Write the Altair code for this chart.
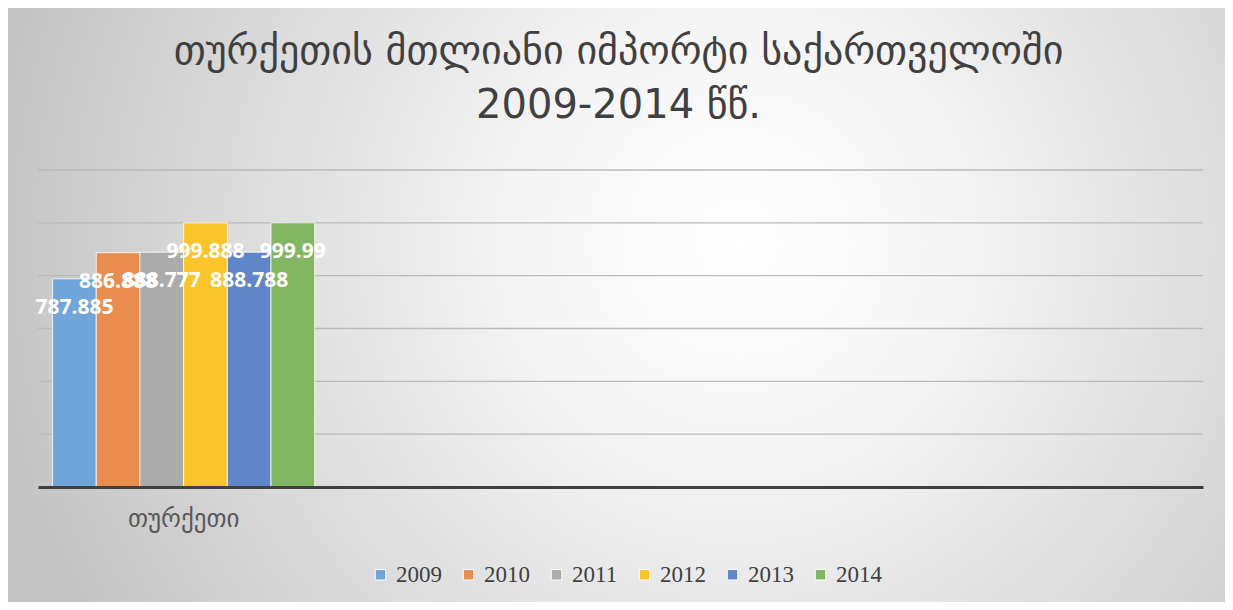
import altair as alt
import pandas as pd

# ---- data ----
years = ["2009", "2010", "2011", "2012", "2013", "2014"]
values = [787.885, 886.888, 888.777, 999.888, 888.788, 999.99]
country = "თურქეთი"
categories = ["თურქეთი", " ", "  ", "   "]
colors = ["#6fa5d8", "#ea8c4e", "#ababab", "#fbc52a", "#5f86c9", "#82b662"]
gridlines = [200, 400, 600, 800, 1000, 1200]
title_lines = ["თურქეთის მთლიანი იმპორტი საქართველოში", "2009-2014 წწ."]

W, H = 1165, 317
PAD = {"left": 30, "top": 162, "right": 22, "bottom": 115}

df = pd.DataFrame({"country": [country] * len(years), "year": years, "value": values})
grid_df = pd.DataFrame({"g": gridlines})
title_df = pd.DataFrame({"t": ["\n".join(title_lines)]})
bg_df = pd.DataFrame({"k": [0]})

GEO_FONT = "DejaVu Sans"

bg = alt.Chart(bg_df).mark_rect(
    color=alt.Gradient(
        gradient="radial",
        x1=0.6, y1=0.45, r1=0.0,
        x2=0.6, y2=0.45, r2=0.62,
        stops=[
            alt.GradientStop(offset=0.0, color="#ffffff"),
            alt.GradientStop(offset=0.3, color="#f4f4f4"),
            alt.GradientStop(offset=1.0, color="#c4c4c4"),
        ],
    )
).encode(
    x=alt.value(-PAD["left"]), x2=alt.value(W + PAD["right"]),
    y=alt.value(-PAD["top"] - 5), y2=alt.value(H + PAD["bottom"]),
)

grid = alt.Chart(grid_df).mark_rule(color="#bababa", strokeWidth=1.3).encode(
    y=alt.Y("g:Q", scale=alt.Scale(domain=[0, 1200], nice=False), axis=None)
)

x_enc = alt.X(
    "country:N",
    scale=alt.Scale(domain=categories, paddingInner=0.1, paddingOuter=0.05),
    axis=alt.Axis(
        title=None, labelAngle=0, ticks=False, grid=False,
        labelFont=GEO_FONT, labelFontSize=25, labelColor="#595959",
        labelPadding=19, domainColor="#404040", domainWidth=3, zindex=1,
    ),
)
xoff = alt.XOffset("year:N", scale=alt.Scale(domain=years, paddingInner=0, paddingOuter=0))
y_enc = alt.Y("value:Q", scale=alt.Scale(domain=[0, 1200], nice=False), axis=None)

bars = alt.Chart(df).mark_bar(stroke="white", strokeWidth=1, strokeOpacity=0.8).encode(
    x=x_enc, xOffset=xoff, y=y_enc,
    color=alt.Color(
        "year:N",
        scale=alt.Scale(domain=years, range=colors),
        legend=alt.Legend(
            title=None, orient="none", direction="horizontal",
            legendX=331, legendY=393, symbolType="square", symbolSize=110,
            symbolStrokeWidth=1, labelFont="Liberation Serif", labelFontSize=23,
            labelColor="#404040", columnPadding=15, labelOffset=4, zindex=1,
        ),
    ),
)

labels = alt.Chart(df).mark_text(
    color="white", font="Open Sans", fontWeight="bold", fontSize=21,
    dy=29, baseline="middle", align="center",
).encode(x=x_enc, xOffset=xoff, y=y_enc, text=alt.Text("value:Q", format=".3~f"))

title = alt.Chart(title_df).mark_text(
    font=GEO_FONT, fontSize=40, color="#404040", align="center",
    baseline="alphabetic", lineBreak="\n", lineHeight=54,
).encode(x=alt.value(W / 2 - 2), y=alt.value(-106), text="t:N")

chart = alt.layer(bg, grid, bars, labels, title).properties(
    width=W, height=H,
    autosize=alt.AutoSizeParams(type="none"),
    padding=PAD,
).configure_view(stroke=None)

chart.save("out.html", embed_options={"renderer": "svg", "actions": False})
